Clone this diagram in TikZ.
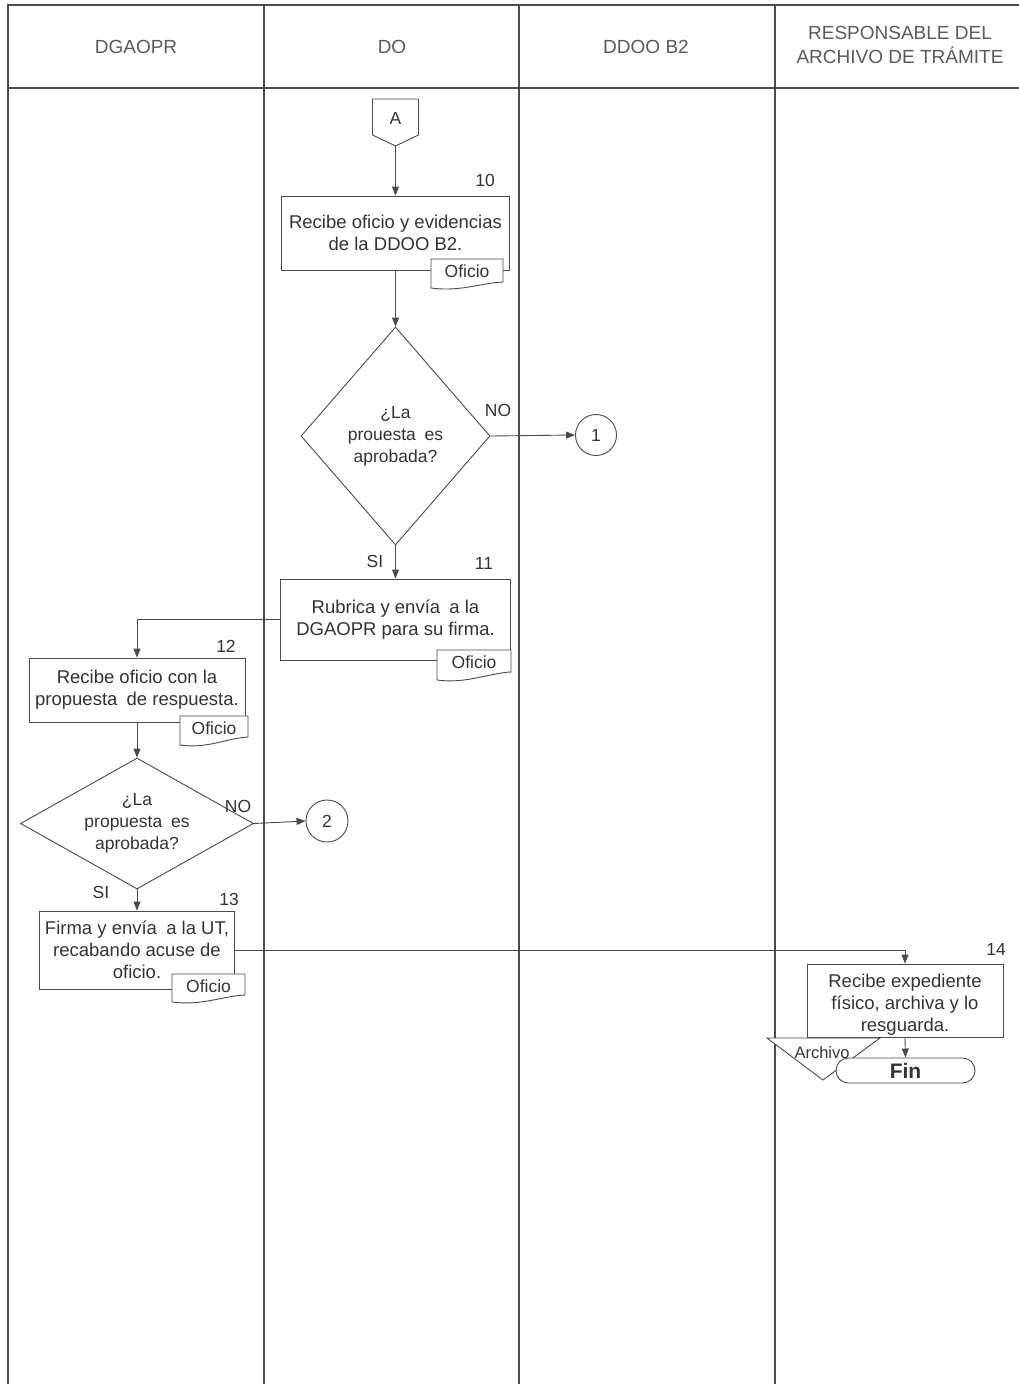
\documentclass[tikz,border=0pt]{standalone}
\usepackage{fontspec}
\setmainfont{Liberation Sans}
\usetikzlibrary{arrows.meta,shapes.geometric,shapes.misc,calc}

\definecolor{inkline}{HTML}{4A4A4A}
\definecolor{inktext}{HTML}{333333}
\definecolor{hdrtext}{HTML}{5A5A5A}

\tikzset{
  lane/.style={draw=inkline, line width=1.3pt},
  box/.style={draw=inkline, line width=0.9pt, fill=white, rectangle, inner sep=0pt,
    align=center, text=inktext, font=\fontsize{18.5}{21.8}\selectfont},
  boxtext/.style={inner sep=0pt, align=center, text=inktext, font=\fontsize{18.5}{21.8}\selectfont},
  decision/.style={draw=inkline, line width=0.9pt, fill=white, diamond, inner sep=0pt,
    align=center, text=inktext, font=\fontsize{17.5}{22}\selectfont},
  connector/.style={draw=inkline, line width=0.9pt, fill=white, circle, inner sep=0pt,
    text=inktext, font=\fontsize{17.5}{20}\selectfont},
  flow/.style={draw=inkline, line width=0.9pt, -{Triangle[length=9pt,width=7pt]}},
  plain/.style={draw=inkline, line width=0.9pt},
  lbl/.style={text=inktext, font=\fontsize{17.5}{20}\selectfont, inner sep=0pt},
  hdr/.style={text=hdrtext, font=\fontsize{19}{24}\selectfont, align=center, inner sep=0pt},
}

% document symbol with a wavy lower edge and the word "Oficio"
% #1 name, #2 left x, #3 top y, #4 width, #5 left height, #6 right height
\newcommand\oficiodoc[6]{%
  \path[draw=inkline, line width=0.9pt, fill=white]
    (#2,#3) -- ({#2+#4},#3) -- ({#2+#4},{#3+#6})
    .. controls ({#2+0.7*#4},{#3+#6+1}) and ({#2+0.4*#4},{#3+#5+4}) .. (#2,{#3+#5}) -- cycle;
  \node[lbl] (#1) at ({#2+#4/2},{#3+12}) {Oficio};
}

\begin{document}
\begin{tikzpicture}[x=1pt,y=-1pt]
\useasboundingbox (0,0) rectangle (1019,1384);

% swimlanes
\draw[lane] (8,1384) -- (8,5) -- (1019,5);
\draw[lane] (8,88) -- (1019,88);
\draw[lane] (264,5) -- (264,1384);
\draw[lane] (519,5) -- (519,1384);
\draw[lane] (775,5) -- (775,1384);

\node[hdr] (h1) at (136,47) {DGAOPR};
\node[hdr] (h2) at (392,47) {DO};
\node[hdr] (h3) at (646,47) {DDOO B2};
\node[hdr] (h4) at (900,45) {RESPONSABLE DEL\\ARCHIVO DE TRÁMITE};

% off-page connector A
\path[draw=inkline, line width=0.9pt, fill=white]
  (372.5,99) -- (418.5,99) -- (418.5,135) -- (395.5,146) -- (372.5,135) -- cycle;
\node[lbl] (A) at (395.5,118) {A};
\coordinate (Atip) at (395.5,146);

% step 10
\node[box, minimum width=228pt, minimum height=74pt] (b10) at (395.5,233)
  {Recibe oficio y evidencias\\de la DDOO B2.};
\node[lbl] (n10) at (485,180) {10};
\oficiodoc{d10}{431}{259}{72}{29}{23}

% first decision
\node[decision, minimum width=189pt, minimum height=218pt, shape aspect=0.87] (q1) at (395.5,436)
  {¿La\\prouesta\enspace es\\aprobada?};
\node[connector, minimum size=41pt] (c1) at (596,435) {1};
\node[lbl] (no1) at (498,410) {NO};
\node[lbl] (si1) at (375,561) {SI};

% step 11
\node[box, minimum width=230pt, minimum height=81pt] (b11) at (395.5,619.5)
  {Rubrica y envía\enspace a la\\DGAOPR para su firma.};
\node[lbl] (n11) at (484,563) {11};
\oficiodoc{d11}{437}{650}{74}{30}{22}

% step 12
\node[box, minimum width=216pt, minimum height=64pt] (b12) at (137,690)
  {Recibe oficio con la\\propuesta\enspace de respuesta.};
\node[lbl] (n12) at (226,646) {12};
\oficiodoc{d12}{180}{716}{68}{29}{21}

% second decision
\node[decision, minimum width=233pt, minimum height=131pt, shape aspect=1.78] (q2) at (137,823.5)
  {¿La\\propuesta\enspace es\\aprobada?};
\node[connector, minimum size=42pt] (c2) at (327,821) {2};
\node[lbl] (no2) at (238,806) {NO};
\node[lbl] (si2) at (101,892) {SI};

% step 13
\node[box, minimum width=195pt, minimum height=78pt] (b13) at (137,950)
  {Firma y envía\enspace a la UT,\\recabando acuse de\\oficio.};
\node[lbl] (n13) at (229,899) {13};
\oficiodoc{d13}{172}{974}{73}{28}{21}

% step 14 (text set a little below the box centre)
\node[box, minimum width=196pt, minimum height=73pt] (b14) at (905,1000.5) {};
\node[boxtext] (t14) at (905,1005)
  {Recibe expediente\\físico, archiva y lo\\resguarda.};
\node[lbl] (n14) at (996,949) {14};

% archive symbol and end terminator
\path[draw=inkline, line width=0.9pt, fill=white]
  (767,1038) -- (880,1038) -- (823,1080) -- cycle;
\node[lbl, font=\fontsize{16.5}{18}\selectfont] (arch) at (822,1053) {Archivo};
\node[draw=inkline, line width=0.9pt, fill=white, rounded rectangle, minimum width=139pt,
  minimum height=25pt, inner sep=0pt, text=inktext,
  font=\bfseries\fontsize{21}{24}\selectfont] (fin) at (905.5,1070.5) {Fin};

% flow lines
\draw[flow] (Atip) -- (b10.north);
\draw[flow] (b10.south) -- (q1.north);
\draw[flow] (q1.east) -- (c1.west);
\draw[flow] (q1.south) -- (b11.north);
\draw[flow] (b11.west) -| (b12.north);
\draw[flow] (b12.south) -- (q2.north);
\draw[flow] (q2.east) -- (c2.west);
\draw[flow] (q2.south) -- (b13.north);
\draw[flow] (b13.east) -| (b14.north);
\draw[flow] (b14.south) -- (fin.north);

\end{tikzpicture}
\end{document}
